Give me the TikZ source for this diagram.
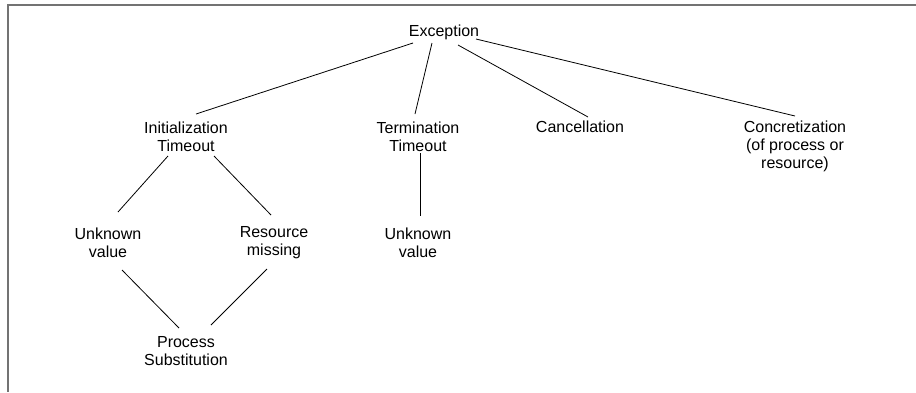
\documentclass[tikz,border=0pt]{standalone}
\usepackage{fontspec}
\setmainfont{Liberation Sans}
\usetikzlibrary{calc}
\begin{document}
\begin{tikzpicture}[x=1pt,y=-1pt,
  lbl/.style={align=center,inner sep=4pt,font=\fontsize{16}{18}\selectfont},
  link/.style={draw=black,line width=0.8pt},
  frame/.style={draw=black!55,line width=2pt}]
\useasboundingbox (0,0) rectangle (916,392);

% partial frame: top and left edges
\draw[frame] (916,5) -- (8,5) -- (8,392);

% nodes
\node[lbl] (exc)  at (444,32)  {Exception};
\node[lbl] (init) at (186,137) {Initialization\\Timeout};
\node[lbl] (term) at (418,137) {Termination\\Timeout};
\node[lbl] (canc) at (580,127) {Cancellation};
\node[lbl] (conc) at (795,146) {Concretization\\(of process or\\resource)};
\node[lbl] (unka) at (108,243) {Unknown\\value};
\node[lbl] (res)  at (274,243) {Resource\\missing};
\node[lbl] (unkb) at (418,243) {Unknown\\value};
\node[lbl] (proc) at (186,351) {Process\\Substitution};

% connectors, each leaving a small gap around the labels
\draw[link] ($(exc)+(-31,11)$) -- ($(init)+(10,-23)$);
\draw[link] ($(exc)+(-12,11)$) -- ($(term)+(-3,-23)$);
\draw[link] ($(exc)+(14,13)$)  -- ($(canc)+(8,-10)$);
\draw[link] ($(exc)+(32,7)$)   -- ($(conc)+(0,-30)$);
\draw[link] ($(init)+(-18,19)$) -- ($(unka)+(10,-31)$);
\draw[link] ($(init)+(28,19)$)  -- ($(res)+(-3,-28)$);
\draw[link] ($(term)+(2,16)$)   -- ($(unkb)+(2,-27)$);
\draw[link] ($(unka)+(14,27)$)  -- ($(proc)+(-7,-23)$);
\draw[link] ($(res)+(-7,26)$)   -- ($(proc)+(25,-26)$);
\end{tikzpicture}
\end{document}
